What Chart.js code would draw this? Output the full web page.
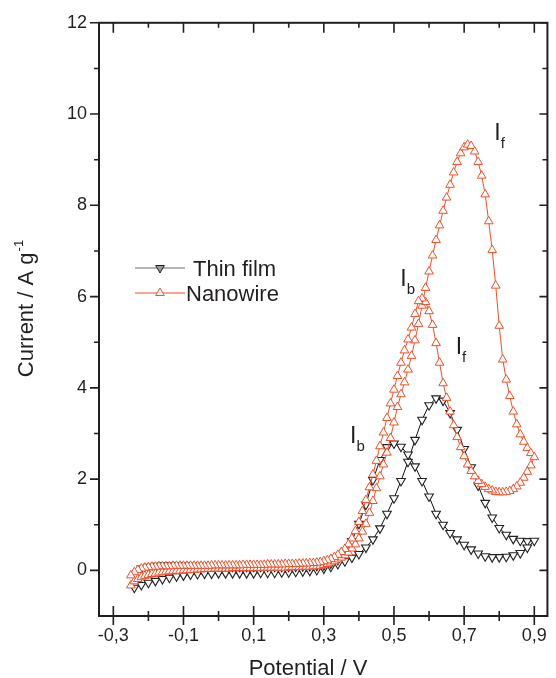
<!DOCTYPE html>
<html>
<head>
<meta charset="utf-8">
<script src="https://cdn.jsdelivr.net/npm/chart.js@4.4.1/dist/chart.umd.min.js"></script>
<style>
  html, body { margin: 0; padding: 0; background: #fff; }
  #wrap { width: 556px; height: 678px; position: relative; }
</style>
</head>
<body>
<div id="wrap"><canvas id="cvChart"></canvas></div>
<script>
// potential grids (V)
const thinPotential = [-0.24, -0.22, -0.20, -0.18, -0.16, -0.14, -0.12, -0.10, -0.08, -0.06,
  -0.04, -0.02, 0.00, 0.02, 0.04, 0.06, 0.08, 0.10, 0.12, 0.14,
  0.16, 0.18, 0.20, 0.22, 0.24, 0.26, 0.28, 0.30, 0.32, 0.34,
  0.36, 0.38, 0.40, 0.42, 0.44, 0.46, 0.48, 0.50, 0.52, 0.54,
  0.56, 0.58, 0.60, 0.62, 0.64, 0.66, 0.68, 0.70, 0.72, 0.74,
  0.76, 0.78, 0.80, 0.82, 0.84, 0.86, 0.88, 0.90];

const nanoPotential = [-0.25, -0.24, -0.23, -0.22, -0.21, -0.20, -0.19, -0.18, -0.17, -0.16,
  -0.15, -0.14, -0.13, -0.12, -0.11, -0.10, -0.09, -0.08, -0.07, -0.06,
  -0.05, -0.04, -0.03, -0.02, -0.01, 0.00, 0.01, 0.02, 0.03, 0.04,
  0.05, 0.06, 0.07, 0.08, 0.09, 0.10, 0.11, 0.12, 0.13, 0.14,
  0.15, 0.16, 0.17, 0.18, 0.19, 0.20, 0.21, 0.22, 0.23, 0.24,
  0.25, 0.26, 0.27, 0.28, 0.29, 0.30, 0.31, 0.32, 0.33, 0.34,
  0.35, 0.36, 0.37, 0.38, 0.39, 0.40, 0.41, 0.42, 0.43, 0.44,
  0.45, 0.46, 0.47, 0.48, 0.49, 0.50, 0.51, 0.52, 0.53, 0.54,
  0.55, 0.56, 0.57, 0.58, 0.59, 0.60, 0.61, 0.62, 0.63, 0.64,
  0.65, 0.66, 0.67, 0.68, 0.69, 0.70, 0.71, 0.72, 0.73, 0.74,
  0.75, 0.76, 0.77, 0.78, 0.79, 0.80, 0.81, 0.82, 0.83, 0.84,
  0.85, 0.86, 0.87, 0.88, 0.89, 0.90];

// thin film, forward scan -0.24 -> 0.90
const thinForward = [-0.38, -0.32, -0.27, -0.23, -0.19, -0.16, -0.13, -0.11, -0.09, -0.08,
  -0.07, -0.07, -0.06, -0.06, -0.06, -0.06, -0.06, -0.06, -0.05, -0.05,
  -0.05, -0.04, -0.04, -0.03, -0.02, -0.01, 0.01, 0.04, 0.08, 0.14,
  0.20, 0.28, 0.36, 0.50, 0.68, 0.92, 1.24, 1.58, 1.96, 2.38,
  2.86, 3.30, 3.62, 3.77, 3.72, 3.45, 3.08, 2.66, 2.26, 1.86,
  1.48, 1.16, 0.93, 0.78, 0.69, 0.65, 0.64, 0.65];

// thin film, backward scan 0.88 -> -0.22
const thinBackward = [0.50, 0.38, 0.33, 0.30, 0.29, 0.29, 0.31, 0.37, 0.46, 0.56,
  0.68, 0.82, 1.00, 1.24, 1.62, 1.96, 2.28, 2.54, 2.71, 2.78,
  2.70, 2.42, 1.98, 1.44, 1.02, 0.64, 0.38, 0.23, 0.15, 0.11,
  0.10, 0.09, 0.09, 0.08, 0.08, 0.08, 0.08, 0.08, 0.08, 0.08,
  0.08, 0.08, 0.08, 0.09, 0.09, 0.09, 0.10, 0.10, 0.10, 0.11,
  0.11, 0.11, 0.11, 0.10, 0.08, 0.04];

// nanowire, forward scan -0.25 -> 0.90
const nanoForward = [-0.33, -0.24, -0.19, -0.15, -0.12, -0.10, -0.08, -0.07, -0.05, -0.04,
  -0.03, -0.02, -0.02, -0.01, -0.01, 0.00, 0.00, 0.01, 0.01, 0.02,
  0.02, 0.03, 0.03, 0.03, 0.04, 0.04, 0.04, 0.04, 0.04, 0.05,
  0.05, 0.05, 0.05, 0.05, 0.05, 0.05, 0.05, 0.05, 0.06, 0.06,
  0.06, 0.06, 0.06, 0.06, 0.06, 0.07, 0.07, 0.07, 0.07, 0.08,
  0.08, 0.08, 0.09, 0.09, 0.10, 0.12, 0.14, 0.17, 0.20, 0.24,
  0.28, 0.33, 0.39, 0.48, 0.57, 0.70, 0.85, 1.02, 1.26, 1.52,
  1.80, 2.06, 2.32, 2.58, 2.90, 3.24, 3.58, 3.86, 4.12, 4.40,
  4.70, 5.04, 5.40, 5.80, 6.19, 6.55, 6.90, 7.24, 7.56, 7.88,
  8.17, 8.45, 8.72, 8.95, 9.14, 9.27, 9.33, 9.30, 9.18, 8.95,
  8.65, 8.24, 7.65, 7.02, 6.24, 5.36, 4.62, 4.18, 3.82, 3.48,
  3.20, 2.98, 2.82, 2.68, 2.57, 2.48];

// nanowire, backward scan 0.89 -> -0.25
const nanoBackward = [2.30, 2.16, 2.03, 1.92, 1.84, 1.78, 1.74, 1.72, 1.71, 1.71,
  1.72, 1.75, 1.78, 1.83, 1.89, 1.96, 2.06, 2.18, 2.32, 2.50,
  2.70, 2.92, 3.18, 3.48, 3.78, 4.10, 4.55, 4.98, 5.38, 5.68,
  5.88, 5.96, 5.90, 5.62, 5.32, 5.06, 4.82, 4.55, 4.26, 3.96,
  3.66, 3.34, 3.02, 2.72, 2.40, 2.10, 1.82, 1.54, 1.30, 1.06,
  0.86, 0.70, 0.57, 0.47, 0.40, 0.34, 0.29, 0.25, 0.22, 0.20,
  0.18, 0.17, 0.16, 0.16, 0.15, 0.15, 0.15, 0.14, 0.14, 0.14,
  0.14, 0.13, 0.13, 0.13, 0.13, 0.13, 0.12, 0.12, 0.12, 0.12,
  0.12, 0.12, 0.12, 0.11, 0.11, 0.11, 0.11, 0.11, 0.11, 0.11,
  0.11, 0.11, 0.10, 0.10, 0.10, 0.10, 0.10, 0.10, 0.10, 0.10,
  0.10, 0.10, 0.10, 0.09, 0.09, 0.09, 0.09, 0.08, 0.08, 0.07,
  0.06, 0.04, 0.01, -0.04, -0.11];

const xMajorTicks = [-0.3, -0.1, 0.1, 0.3, 0.5, 0.7, 0.9];
const xMinorTicks = [-0.2, 0.0, 0.2, 0.4, 0.6, 0.8];
const yMajorTicks = [0, 2, 4, 6, 8, 10, 12];
const yMinorTicks = [1, 3, 5, 7, 9, 11];

const peakLabels = [
  { main: 'I', sub: 'f', x: 0.786, y: 9.44 },
  { main: 'I', sub: 'b', x: 0.518, y: 6.23 },
  { main: 'I', sub: 'f', x: 0.676, y: 4.74 },
  { main: 'I', sub: 'b', x: 0.375, y: 2.80 }
];

const RED = '#f04f28';
const DARK = '#231f20';
const FONT = '"Liberation Sans", Arial, Helvetica, sans-serif';

// a CV loop: forward points, then backward points
function loop(potential, fwd, back) {
  const pts = fwd.map((v, i) => ({ x: potential[i], y: v }));
  const backPot = potential.slice(potential.length - 1 - back.length, potential.length - 1).reverse();
  back.forEach((v, i) => pts.push({ x: backPot[i], y: v }));
  return pts;
}

const framePlugin = {
  id: 'frameTicks',
  afterDraw(chart) {
    const { ctx, chartArea: a, scales: { x, y } } = chart;
    ctx.save();
    ctx.strokeStyle = DARK;
    ctx.lineWidth = 2;
    ctx.strokeRect(a.left, a.top, a.right - a.left, a.bottom - a.top);

    ctx.lineWidth = 1.6;
    ctx.beginPath();
    const seg = (x1, y1, x2, y2) => { ctx.moveTo(x1, y1); ctx.lineTo(x2, y2); };
    xMajorTicks.forEach(v => {
      const p = x.getPixelForValue(v);
      seg(p, a.bottom - 10, p, a.bottom + 9);
      seg(p, a.top, p, a.top + 10);
    });
    xMinorTicks.forEach(v => {
      const p = x.getPixelForValue(v);
      seg(p, a.bottom - 5, p, a.bottom + 5);
      seg(p, a.top, p, a.top + 5);
    });
    yMajorTicks.forEach(v => {
      const p = y.getPixelForValue(v);
      seg(a.left - 9, p, a.left, p);
      seg(a.right - 8, p, a.right, p);
    });
    yMinorTicks.forEach(v => {
      const p = y.getPixelForValue(v);
      seg(a.left - 5, p, a.left, p);
      seg(a.right - 5, p, a.right, p);
    });
    ctx.stroke();

    // axis titles
    ctx.fillStyle = DARK;
    ctx.font = '22px ' + FONT;
    ctx.textAlign = 'center';
    ctx.textBaseline = 'alphabetic';
    ctx.fillText('Potential / V', 308, 675);

    ctx.save();
    ctx.translate(33, 309);
    ctx.rotate(-Math.PI / 2);
    ctx.font = '22px ' + FONT;
    const mainTxt = 'Current / A g';
    const wMain = ctx.measureText(mainTxt).width;
    ctx.font = '13px ' + FONT;
    const wSup = ctx.measureText('-1').width;
    const x0 = -(wMain + wSup) / 2;
    ctx.textAlign = 'left';
    ctx.font = '22px ' + FONT;
    ctx.fillText(mainTxt, x0, 0);
    ctx.font = '13px ' + FONT;
    ctx.fillText('-1', x0 + wMain + 1, -10);
    ctx.restore();

    // peak labels
    peakLabels.forEach(l => {
      const px = x.getPixelForValue(l.x);
      const py = y.getPixelForValue(l.y);
      ctx.textAlign = 'left';
      ctx.font = '23px ' + FONT;
      ctx.fillText(l.main, px, py);
      const w = ctx.measureText(l.main).width;
      ctx.font = '15px ' + FONT;
      ctx.fillText(l.sub, px + w, py + 8);
    });

    // legend
    const items = [
      { label: 'Thin film', color: '#6d6d6d', mark: DARK, down: true, fill: '#9a9a9a', y: 268, tx: 193 },
      { label: 'Nanowire', color: RED, mark: RED, down: false, fill: '#ffffff', y: 293, tx: 186 }
    ];
    items.forEach(it => {
      ctx.strokeStyle = it.color;
      ctx.lineWidth = 1.2;
      ctx.beginPath();
      ctx.moveTo(135, it.y);
      ctx.lineTo(185, it.y);
      ctx.stroke();
      ctx.lineWidth = 1;
      ctx.fillStyle = it.fill;
      ctx.strokeStyle = it.mark;
      ctx.beginPath();
      const r = 5, s = it.down ? -1 : 1;
      ctx.moveTo(160, it.y - s * r);
      ctx.lineTo(160 + r * 0.866, it.y + s * r * 0.5);
      ctx.lineTo(160 - r * 0.866, it.y + s * r * 0.5);
      ctx.closePath();
      ctx.fill();
      ctx.stroke();
      ctx.fillStyle = DARK;
      ctx.font = '22px ' + FONT;
      ctx.textAlign = 'left';
      ctx.fillText(it.label, it.tx, it.y + 7.5);
    });
    ctx.restore();
  }
};

new Chart(document.getElementById('cvChart'), {
  type: 'scatter',
  data: {
    datasets: [
      {
        label: 'Nanowire',
        data: loop(nanoPotential, nanoForward, nanoBackward),
        showLine: true,
        borderColor: RED,
        borderWidth: 1,
        pointStyle: 'triangle',
        pointRadius: 5,
        pointBorderWidth: 1,
        pointBorderColor: RED,
        pointBackgroundColor: '#ffffff',
        tension: 0,
        order: 0
      },
      {
        label: 'Thin film',
        data: loop(thinPotential, thinForward, thinBackward),
        showLine: true,
        borderColor: '#111111',
        borderWidth: 1,
        pointStyle: 'triangle',
        pointRotation: 180,
        pointRadius: 5,
        pointBorderWidth: 1.1,
        pointBorderColor: '#222222',
        pointBackgroundColor: '#ffffff',
        tension: 0,
        order: 1
      }
    ]
  },
  options: {
    responsive: true,
    maintainAspectRatio: false,
    devicePixelRatio: 1,
    animation: false,
    layout: { padding: { top: 21, right: 2, left: 0, bottom: 0 } },
    plugins: {
      legend: { display: false },
      tooltip: { enabled: false }
    },
    scales: {
      x: {
        type: 'linear',
        min: -0.3408,
        max: 0.9374,
        grid: { display: false, drawTicks: false },
        border: { display: false },
        afterFit: s => { s.height = 62; },
        afterBuildTicks: s => { s.ticks = xMajorTicks.map(v => ({ value: v })); },
        ticks: {
          padding: 9,
          autoSkip: false,
          maxRotation: 0,
          color: DARK,
          font: { family: FONT, size: 18 },
          callback: v => v.toFixed(1).replace('.', ',')
        }
      },
      y: {
        type: 'linear',
        min: -1,
        max: 12,
        grid: { display: false, drawTicks: false },
        border: { display: false },
        afterFit: s => { s.width = 99; },
        afterBuildTicks: s => { s.ticks = yMajorTicks.map(v => ({ value: v })); },
        ticks: {
          padding: 12,
          color: DARK,
          font: { family: FONT, size: 18 },
          callback: v => String(v)
        }
      }
    }
  },
  plugins: [framePlugin]
});
</script>
</body>
</html>
